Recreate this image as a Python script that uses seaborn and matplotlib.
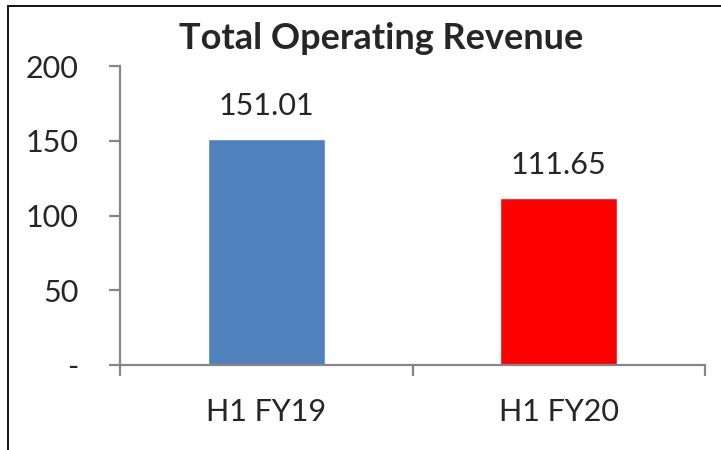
import matplotlib
matplotlib.use("Agg")
import matplotlib.pyplot as plt
import seaborn as sns
from matplotlib.lines import Line2D
from matplotlib.ticker import FuncFormatter, FixedLocator

# -------------------------------
# Data
# -------------------------------
periods = ["H1 FY19", "H1 FY20"]
revenue = [151.01, 111.65]
bar_colors = ["#4F81BD", "#FF0000"]
y_ticks = [0, 50, 100, 150, 200]

# -------------------------------
# Setup
# -------------------------------
sns.set_style("white")
plt.rcParams["font.family"] = ["Lato", "DejaVu Sans"]
axis_grey = "#868686"

fig = plt.figure(figsize=(7.21, 4.5), dpi=100)
ax = fig.add_axes([120 / 721, 1 - 365 / 450, 585 / 721, 299 / 450])

sns.barplot(x=periods, y=revenue, hue=periods, palette=bar_colors,
            width=0.4, legend=False, saturation=1, ax=ax)

ax.set_xlim(-0.5, 1.5)
ax.set_ylim(0, 200)
ax.set_xlabel("")
ax.set_ylabel("")

# axes styling
sns.despine(ax=ax)
for side in ["left", "bottom"]:
    ax.spines[side].set_color(axis_grey)
    ax.spines[side].set_linewidth(1.6)

ax.yaxis.set_major_locator(FixedLocator(y_ticks))
ax.yaxis.set_major_formatter(FuncFormatter(lambda v, p: "-" if v == 0 else f"{v:.0f}"))
ax.tick_params(axis="y", direction="out", length=8, width=1.6, color=axis_grey,
               labelsize=22, pad=22, left=True)
ax.tick_params(axis="x", which="major", length=0, labelsize=22, pad=24)
ax.xaxis.set_minor_locator(FixedLocator([-0.5, 0.5, 1.5]))
ax.tick_params(axis="x", which="minor", direction="out", length=8, width=1.6,
               color=axis_grey, bottom=True)

# value labels
for container in ax.containers:
    ax.bar_label(container, fmt="%.2f", padding=14, fontsize=22)

# title
fig.text(381 / 721, 1 - 49 / 450, "Total Operating Revenue", ha="center", va="baseline",
         fontsize=26, fontweight="bold")

# frame lines (left and top)
fig.add_artist(Line2D([8 / 721, 8 / 721], [0, 1 - 6 / 450], color="black", lw=1.3,
                      transform=fig.transFigure))
fig.add_artist(Line2D([8 / 721, 1], [1 - 6 / 450, 1 - 6 / 450], color="black", lw=1.3,
                      transform=fig.transFigure))

fig.savefig("out.png", dpi=100)
plt.close(fig)
